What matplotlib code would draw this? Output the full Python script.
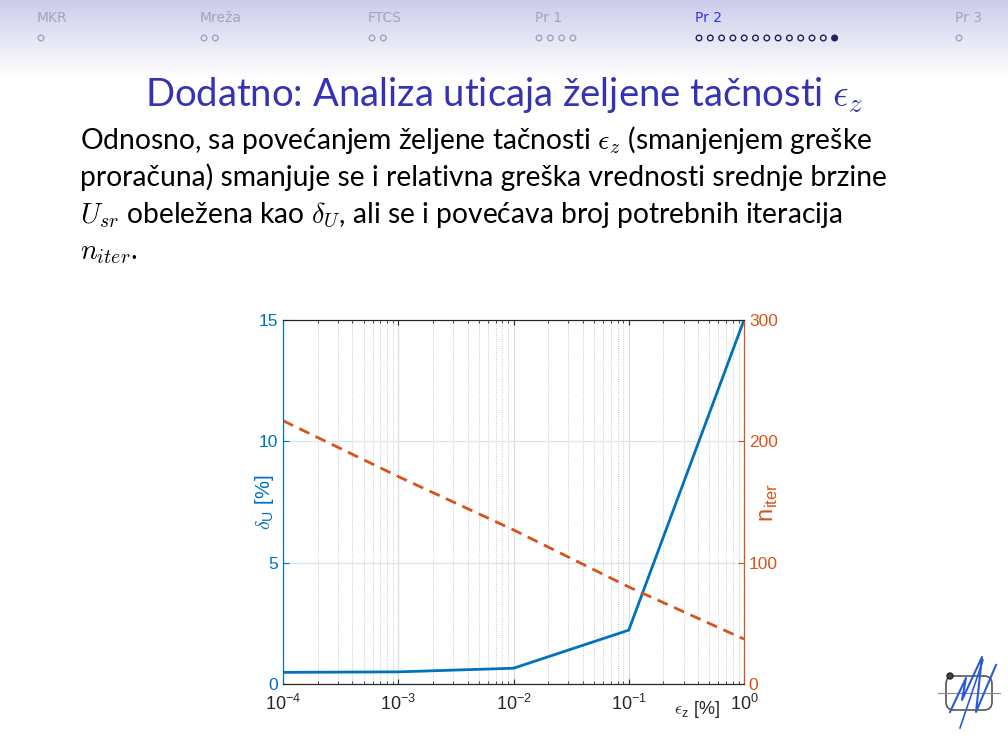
import matplotlib.pyplot as plt
import numpy as np
from matplotlib.patches import FancyBboxPatch, Circle

plt.rcParams['mathtext.fontset'] = 'cm'

# podaci sa grafika
eps_z = [1e-4, 1e-3, 1e-2, 1e-1, 1e0]
delta_u = [0.48, 0.50, 0.65, 2.22, 15.0]
n_iter = [217, 171, 127, 80, 37]

nav_names = ['MKR', 'Mreža', 'FTCS', 'Pr 1', 'Pr 2', 'Pr 3']
nav_counts = [1, 2, 2, 4, 13, 1]
nav_x = [37, 200, 368, 535, 695, 955]

body_lines = [
    r'Odnosno, sa povećanjem željene tačnosti $\epsilon_z$ (smanjenjem greške',
    r'proračuna) smanjuje se i relativna greška vrednosti srednje brzine',
    r'$U_{sr}$ obeležena kao $\delta_U$, ali se i povećava broj potrebnih iteracija',
    r'$n_{iter}$.',
]

blue = '#0072BD'
orange = '#D95319'

fig = plt.figure(figsize=(10.08, 7.56), dpi=100)

# pozadina slajda (header sa gradijentom)
bg = fig.add_axes([0, 0, 1, 1], zorder=-1)
bg.set_xlim(0, 1008)
bg.set_ylim(756, 0)
bg.axis('off')
grad = np.linspace(0, 1, 100).reshape(-1, 1)
top = np.array([0.80, 0.80, 0.92])
grad_img = top + (np.array([1.0, 1.0, 1.0]) - top) * grad[:, :, None]
bg.imshow(grad_img, extent=[0, 1008, 78, 0], aspect='auto')

for name, cnt, x in zip(nav_names, nav_counts, nav_x):
    active = name == 'Pr 2'
    col = '#3333ee' if active else '#a3a3bb'
    bg.text(x, 18, name, fontsize=10, color=col, family='DejaVu Sans',
            va='center', ha='left')
    dcol = '#22225a' if active else '#a3a3bb'
    for i in range(cnt):
        filled = active and i == cnt - 1
        bg.add_patch(Circle((x + 4 + i * 11.3, 38), 2.8, lw=1,
                            edgecolor=dcol,
                            facecolor=dcol if filled else 'none'))

fig.text(0.5, 1 - 95 / 756, r'Dodatno: Analiza uticaja željene tačnosti $\epsilon_z$',
         ha='center', va='center', fontsize=27.5, color='#3333b3', family='Lato')

for i, line in enumerate(body_lines):
    fig.text(80 / 1008, 1 - (140 + i * 37.5) / 756, line, ha='left', va='center',
             fontsize=20.3, color='black', family='Lato')

# logo dole desno
bg.add_patch(FancyBboxPatch((946, 676), 46, 34, boxstyle='round,pad=0,rounding_size=8',
                            fill=False, edgecolor='#555555', lw=1.2))
bg.plot([938, 1000], [693, 693], color='#888888', lw=0.8)
bg.plot([950, 966, 962, 982, 976, 996], [712, 678, 700, 657, 712, 665],
        color='#2a5bd0', lw=1.5)
bg.plot([960, 983], [728, 660], color='#2a5bd0', lw=1.2)
bg.add_patch(Circle((950, 676), 3, facecolor='#444444', edgecolor='#222222'))

# grafik
ax = fig.add_axes([283 / 1008, 1 - 684 / 756, 461 / 1008, 364 / 756])
ax2 = ax.twinx()

ax.semilogx(eps_z, delta_u, color=blue, lw=2)
ax2.plot(eps_z, n_iter, color=orange, lw=2, ls=(0, (4, 2.5)))

ax.set_xlim(1e-4, 1)
ax.set_ylim(0, 15)
ax2.set_ylim(0, 300)
ax.set_yticks([0, 5, 10, 15])
ax2.set_yticks([0, 100, 200, 300])

ax.grid(True, which='major', axis='x', color='#dddddd', lw=0.9)
ax.grid(True, which='minor', axis='x', color='#bbbbbb', lw=0.6, ls=':')
ax.grid(True, which='major', axis='y', color='#d4e6f6', lw=0.9)
ax.set_axisbelow(True)

tick_font = 'Liberation Sans'
for lab in ax.get_xticklabels() + ax.get_yticklabels() + ax2.get_yticklabels():
    lab.set_family(tick_font)
ax.tick_params(axis='x', which='both', direction='in', labelsize=13, colors='#262626',
               top=True, pad=7)
ax.tick_params(axis='y', direction='in', labelsize=12.5, colors=blue, length=4)
ax2.tick_params(axis='y', direction='in', labelsize=12.5, colors=orange, length=4)

for a in (ax, ax2):
    a.spines['top'].set_color('#262626')
    a.spines['bottom'].set_color('#262626')
    a.spines['left'].set_color(blue)
    a.spines['right'].set_color(orange)

fig.text(265 / 1008, 1 - 502 / 756, r'$\delta_{\mathdefault{U}}$ [%]', color=blue,
         fontsize=14.5, family=tick_font, rotation=90, ha='center', va='center')
fig.text(769 / 1008, 1 - 503 / 756, r'n$_{\mathdefault{iter}}$', color=orange,
         fontsize=17, family=tick_font, rotation=90, ha='center', va='center')
fig.text(697 / 1008, 1 - 709 / 756, r'$\epsilon_{\mathdefault{z}}$ [%]', ha='center',
         va='center', fontsize=13, color='#262626', family=tick_font)

fig.savefig('out.png', dpi=100)
